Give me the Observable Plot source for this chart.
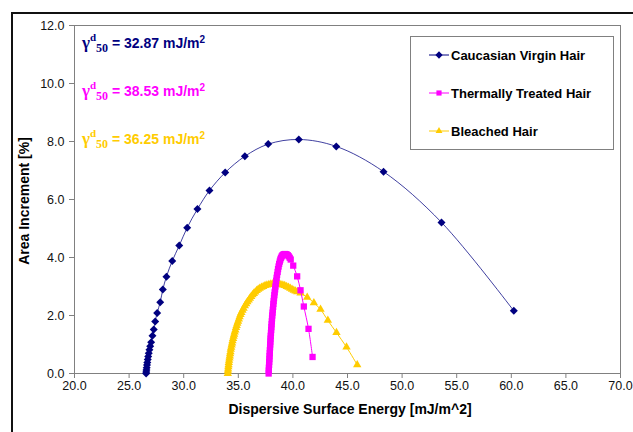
<!DOCTYPE html>
<html><head><meta charset="utf-8">
<script src="https://cdn.jsdelivr.net/npm/d3@7"></script>
<script src="https://cdn.jsdelivr.net/npm/@observablehq/plot@0.6"></script>
<style>
html,body{margin:0;padding:0;background:#fff;overflow:hidden;width:633px;height:432px}
#wrap{position:relative;width:633px;height:432px;font-family:"Liberation Sans",Arial,sans-serif;overflow:hidden}
#wrap svg.chart{position:absolute;left:0;top:0}
#frame{position:absolute;left:11px;top:12px;width:700px;height:500px;border:2px solid #111;box-sizing:border-box;pointer-events:none}
.gam{position:absolute;left:82px;font-weight:bold;font-size:14px;white-space:nowrap;line-height:16px}
.gam .g{font-family:"Liberation Serif","Times New Roman",serif;font-size:17px}
.gam .sp{font-family:"Liberation Serif",serif;font-size:11px;position:relative;top:-7px}
.gam .sb{font-family:"Liberation Serif",serif;font-size:12px;position:relative;top:4px}
.gam .s2{font-size:10px;position:relative;top:-5px}
#legend{position:absolute;left:410px;top:36px;width:204px;height:114px;border:1px solid #808080;background:#fff;box-sizing:border-box}
.le{position:absolute;left:17px;height:16px;display:flex;align-items:center;font-weight:bold;font-size:13px;color:#000;white-space:nowrap}
.le svg{margin-right:1px}
</style></head><body><div id="wrap"></div>
<script>
// ---- data ----
const seriesNames = ["Caucasian Virgin Hair", "Thermally Treated Hair", "Bleached Hair"];
const seriesColors = ["#000080", "#FF00FF", "#FFCC00"];
const seriesSymbols = ["diamond2", "square2", "triangle2"];

const virginX = [26.56, 26.57, 26.59, 26.61, 26.64, 26.67, 26.71, 26.75, 26.80, 26.86, 26.93, 27.02, 27.14, 27.26, 27.39, 27.57, 27.85, 28.09, 28.42, 28.95, 29.59, 30.32, 31.26, 32.36, 33.80, 35.60, 37.74, 40.54, 43.97, 48.30, 53.61, 60.23];
const virginY = [0.00, 0.05, 0.12, 0.20, 0.29, 0.38, 0.48, 0.59, 0.70, 0.82, 0.94, 1.08, 1.30, 1.52, 1.79, 2.09, 2.46, 2.90, 3.34, 3.88, 4.41, 5.03, 5.67, 6.31, 6.93, 7.49, 7.91, 8.07, 7.83, 6.96, 5.21, 2.16];

const thermalX = [37.78, 37.79, 37.80, 37.82, 37.83, 37.85, 37.86, 37.88, 37.89, 37.91, 37.92, 37.94, 37.95, 37.97, 37.99, 38.01, 38.03, 38.05, 38.07, 38.09, 38.11, 38.14, 38.16, 38.19, 38.21, 38.24, 38.27, 38.30, 38.33, 38.37, 38.40, 38.44, 38.47, 38.51, 38.55, 38.60, 38.64, 38.69, 38.74, 38.80, 38.85, 38.91, 38.98, 39.05, 39.12, 39.20, 39.28, 39.36, 39.45, 39.53, 39.62, 39.71, 39.80, 40.03, 40.39, 40.70, 41.00, 41.43, 41.80];
const thermalY = [0.00, 0.10, 0.20, 0.30, 0.40, 0.50, 0.60, 0.70, 0.80, 0.90, 1.00, 1.10, 1.20, 1.30, 1.40, 1.50, 1.60, 1.70, 1.80, 1.90, 2.00, 2.10, 2.20, 2.30, 2.40, 2.50, 2.60, 2.70, 2.80, 2.90, 3.00, 3.10, 3.20, 3.30, 3.40, 3.50, 3.60, 3.69, 3.78, 3.86, 3.93, 3.99, 4.04, 4.08, 4.10, 4.11, 4.12, 4.11, 4.10, 4.08, 4.04, 3.99, 3.93, 3.72, 3.35, 2.87, 2.31, 1.54, 0.57];

const bleachedX = [34.04, 34.05, 34.07, 34.09, 34.11, 34.13, 34.16, 34.19, 34.22, 34.25, 34.28, 34.31, 34.35, 34.39, 34.43, 34.47, 34.52, 34.57, 34.62, 34.67, 34.73, 34.79, 34.85, 34.91, 34.98, 35.05, 35.12, 35.20, 35.28, 35.38, 35.48, 35.60, 35.72, 35.83, 35.95, 36.06, 36.18, 36.30, 36.42, 36.55, 36.68, 36.82, 36.96, 37.12, 37.28, 37.45, 37.62, 37.80, 37.98, 38.16, 38.35, 38.53, 38.72, 38.90, 39.08, 39.25, 39.43, 39.60, 39.76, 39.92, 40.08, 40.24, 40.40, 40.70, 41.31, 41.92, 42.53, 43.20, 43.99, 44.91, 45.89];
const bleachedY = [0.00, 0.08, 0.15, 0.23, 0.30, 0.38, 0.45, 0.53, 0.60, 0.68, 0.75, 0.83, 0.90, 0.98, 1.05, 1.13, 1.20, 1.28, 1.35, 1.43, 1.50, 1.58, 1.65, 1.73, 1.80, 1.88, 1.95, 2.03, 2.10, 2.18, 2.25, 2.33, 2.40, 2.47, 2.53, 2.59, 2.65, 2.71, 2.76, 2.81, 2.86, 2.90, 2.94, 2.97, 3.00, 3.03, 3.05, 3.07, 3.08, 3.09, 3.09, 3.09, 3.08, 3.07, 3.05, 3.03, 3.00, 2.97, 2.94, 2.90, 2.87, 2.84, 2.82, 2.77, 2.63, 2.44, 2.21, 1.83, 1.41, 0.91, 0.30];

const gammaValues = ["32.87", "38.53", "36.25"];
const xTicks = [20, 25, 30, 35, 40, 45, 50, 55, 60, 65, 70];
const yTicks = [0, 2, 4, 6, 8, 10, 12];
const xTitle = "Dispersive Surface Energy [mJ/m^2]";
const yTitle = "Area Increment [%]";

// ---- build ----
const seriesData = [
  {name: seriesNames[0], xs: virginX, ys: virginY},
  {name: seriesNames[1], xs: thermalX, ys: thermalY},
  {name: seriesNames[2], xs: bleachedX, ys: bleachedY}
];
const rows = seriesData.flatMap(s => s.xs.map((x, i) => ({series: s.name, x, y: s.ys[i]})));
const drawOrder = [seriesNames[2], seriesNames[1], seriesNames[0]];
const markerR = {[seriesNames[0]]: 3.6, [seriesNames[1]]: 4.0, [seriesNames[2]]: 4.0};
const seriesMarks = drawOrder.flatMap(name => {
  const d = rows.filter(r => r.series === name);
  return [
    Plot.line(d, {x: "x", y: "y", stroke: "series", strokeWidth: 1, curve: "catmull-rom", strokeOpacity: name === seriesNames[0] ? 0.75 : 1}),
    Plot.dot(d, {x: "x", y: "y", fill: "series", symbol: "series", r: markerR[name], stroke: "none"})
  ];
});

const chart = Plot.plot({
  width: 633, height: 432,
  marginLeft: 74, marginRight: 13, marginTop: 25, marginBottom: 59,
  style: {fontFamily: "Liberation Sans, Arial, sans-serif", fontSize: "12px", background: "transparent"},
  x: {domain: [20, 70]},
  y: {domain: [0, 12]},
  color: {domain: seriesNames, range: seriesColors},
  symbol: {domain: seriesNames, range: seriesSymbols},
  marks: [
    Plot.frame({stroke: "#808080"}),
    Plot.axisX({ticks: xTicks, tickFormat: d => d.toFixed(1), tickSize: 5, tickPadding: 3, label: null, stroke: "#808080", fill: "#111", fontSize: 12.5}),
    Plot.axisY({ticks: yTicks, tickFormat: d => d.toFixed(1), tickSize: 5, tickPadding: 5, label: null, stroke: "#808080", fill: "#111", fontSize: 12.5}),
    ...seriesMarks
  ]
});
chart.classList.add("chart");
const svg = d3.select(chart);
svg.append("text").attr("x", 350).attr("y", 410).attr("text-anchor", "middle").attr("dominant-baseline", "middle")
  .attr("font-weight", "bold").attr("font-size", 14).attr("fill", "#000").text(xTitle);
svg.append("text").attr("transform", "translate(25,201) rotate(-90)").attr("text-anchor", "middle").attr("dominant-baseline", "middle")
  .attr("font-weight", "bold").attr("font-size", 14).attr("fill", "#000").text(yTitle);

const wrap = document.getElementById("wrap");
wrap.appendChild(chart);

// gamma annotations
const gammaTops = [35, 83, 131];
gammaValues.forEach((v, i) => {
  const el = document.createElement("div");
  el.className = "gam";
  el.style.top = gammaTops[i] + "px";
  el.style.color = seriesColors[i];
  el.innerHTML = `<span class="g">γ</span><span class="sp">d</span><span class="sb">50</span> = ${v} mJ/m<span class="s2">2</span>`;
  wrap.appendChild(el);
});

// legend
const legend = document.createElement("div");
legend.id = "legend";
const legTops = [10, 48, 86];
seriesNames.forEach((n, i) => {
  const e = document.createElement("div");
  e.className = "le";
  e.style.top = legTops[i] + "px";
  const sym = d3.symbol(d3[{diamond2: "symbolDiamond2", square2: "symbolSquare2", triangle2: "symbolTriangle2"}[seriesSymbols[i]]], 34)();
  e.innerHTML = `<svg width="22" height="16"><line x1="1" x2="21" y1="8" y2="8" stroke="${seriesColors[i]}" stroke-width="1"/><path transform="translate(11,8)" d="${sym}" fill="${seriesColors[i]}"/></svg><span>${n}</span>`;
  legend.appendChild(e);
});
wrap.appendChild(legend);

const frame = document.createElement("div");
frame.id = "frame";
wrap.appendChild(frame);
</script>
</body></html>
